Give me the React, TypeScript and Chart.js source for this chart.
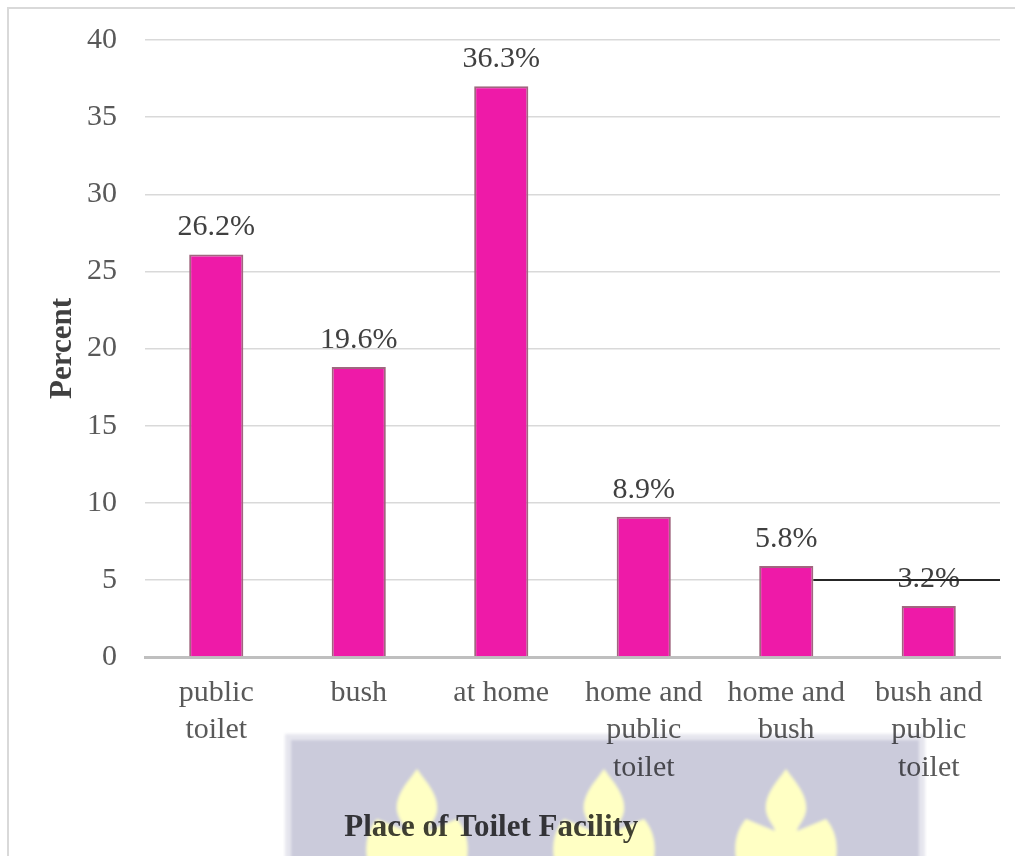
import React, { useEffect, useRef } from "react";
import { Chart, registerables } from "chart.js";

Chart.register(...registerables);

// ---- data ----
const categories: string[][] = [
  ["public", "toilet"],
  ["bush"],
  ["at home"],
  ["home and", "public", "toilet"],
  ["home and", "bush"],
  ["bush and", "public", "toilet"],
];
const barValues: number[] = [26.1, 18.8, 37.0, 9.1, 5.9, 3.3];
const barLabels: string[] = ["26.2%", "19.6%", "36.3%", "8.9%", "5.8%", "3.2%"];
const yMin = 0;
const yMax = 40;
const yStep = 5;
const refLineValue = 5;
const refLineFromIndex = 4;
const yAxisTitle = "Percent";
const xAxisTitle = "Place of Toilet Facility";

const SERIF = '"Liberation Serif", "Times New Roman", serif';

export default function App() {
  const canvasRef = useRef<HTMLCanvasElement | null>(null);

  useEffect(() => {
    const canvas = canvasRef.current;
    if (!canvas) return;

    const labelPlugin = {
      id: "barLabels",
      afterDatasetsDraw(chart: any) {
        const ctx = chart.ctx;
        const meta = chart.getDatasetMeta(0);
        ctx.save();
        ctx.font = `30px ${SERIF}`;
        ctx.fillStyle = "#404040";
        ctx.textAlign = "center";
        ctx.textBaseline = "middle";
        meta.data.forEach((el: any, i: number) => {
          ctx.fillText(barLabels[i], el.x, el.y - 27);
        });
        // reference line
        const ys = chart.scales.y;
        const yy = ys.getPixelForValue(refLineValue);
        const bar = meta.data[refLineFromIndex];
        ctx.strokeStyle = "#262626";
        ctx.lineWidth = 2;
        ctx.beginPath();
        ctx.moveTo(bar.x + bar.width / 2, yy);
        ctx.lineTo(chart.chartArea.right, yy);
        ctx.stroke();
        // x axis title
        const ca = chart.chartArea;
        ctx.font = `bold 31px ${SERIF}`;
        ctx.fillStyle = "#404040";
        ctx.textAlign = "center";
        ctx.textBaseline = "middle";
        ctx.fillText(xAxisTitle, ca.left + (ca.right - ca.left) * 0.405, ca.bottom + 171);
        ctx.restore();
      },
    };

    const chart = new Chart(canvas, {
      type: "bar",
      data: {
        labels: categories,
        datasets: [
          {
            data: barValues,
            backgroundColor: "#EE1AA8",
            borderColor: "#A0667F",
            borderWidth: 2,
            barPercentage: 0.38,
            categoryPercentage: 1,
          },
        ],
      },
      options: {
        responsive: false,
        animation: false,
        layout: { padding: { left: 44, right: 15, top: 40, bottom: 0 } },
        plugins: {
          legend: { display: false },
          tooltip: { enabled: false },
        },
        scales: {
          x: {
            grid: { display: false, drawTicks: false },
            border: { display: true, color: "#BFBFBF", width: 3 },
            ticks: {
              color: "#595959",
              font: { family: SERIF, size: 30, lineHeight: 1.25 },
              padding: 17,
              maxRotation: 0,
              autoSkip: false,
            },
            afterFit(scale: any) {
              scale.height = 199;
              scale.paddingLeft = 0;
              scale.paddingRight = 0;
            },
          },
          y: {
            min: yMin,
            max: yMax,
            ticks: {
              stepSize: yStep,
              color: "#595959",
              font: { family: SERIF, size: 30 },
              padding: 28,
            },
            grid: { color: "#D9D9D9", lineWidth: 1.5, drawTicks: false },
            border: { display: false },
            title: {
              display: true,
              text: yAxisTitle,
              color: "#404040",
              font: { family: SERIF, size: 31, weight: "bold" },
              padding: { top: 0, bottom: 0 },
            },
            afterFit(scale: any) {
              scale.width = 101;
              scale.paddingTop = 0;
              scale.paddingBottom = 0;
            },
          },
        },
      },
      plugins: [labelPlugin],
    } as any);

    return () => chart.destroy();
  }, []);

  const flame = (cx: number) => {
    const t = 769;
    const p = (dx: number, dy: number) => `${cx + dx},${t + dy}`;
    return (
      `M ${p(0, 0)} C ${p(8, 12)} ${p(22, 25)} ${p(20, 42)} C ${p(18, 52)} ${p(12, 56)} ${p(11, 62)} ` +
      `L ${p(40, 50)} C ${p(50, 62)} ${p(52, 75)} ${p(50, 90)} L ${p(-50, 90)} ` +
      `C ${p(-52, 75)} ${p(-50, 62)} ${p(-40, 50)} L ${p(-11, 62)} C ${p(-12, 56)} ${p(-18, 52)} ${p(-20, 42)} ` +
      `C ${p(-22, 25)} ${p(-8, 12)} ${p(0, 0)} Z`
    );
  };

  return (
    <div
      style={{
        position: "fixed",
        left: 0,
        top: 0,
        width: 1015,
        height: 856,
        overflow: "hidden",
        background: "#FFFFFF",
      }}
    >
      <div
        style={{
          position: "absolute",
          left: 7,
          top: 7,
          width: 1100,
          height: 1000,
          border: "2px solid #D9D9D9",
          boxSizing: "border-box",
        }}
      />
      <canvas
        ref={canvasRef}
        width={1015}
        height={856}
        style={{ position: "absolute", left: 0, top: 0, width: 1015, height: 856 }}
      />
      <svg
        width={1015}
        height={856}
        style={{ position: "absolute", left: 0, top: 0, pointerEvents: "none", mixBlendMode: "multiply" }}
      >
        <defs>
          <filter id="soft">
            <feGaussianBlur stdDeviation="1.5" />
          </filter>
        </defs>
        <g filter="url(#soft)">
          <rect x={288} y={737} width={634} height={130} fill="#CBCBDB" stroke="#E6E6EE" strokeWidth={6} />
          {[417, 604, 786].map((cx) => (
            <path key={cx} d={flame(cx)} fill="#FFFFC4" />
          ))}
        </g>
      </svg>
    </div>
  );
}
